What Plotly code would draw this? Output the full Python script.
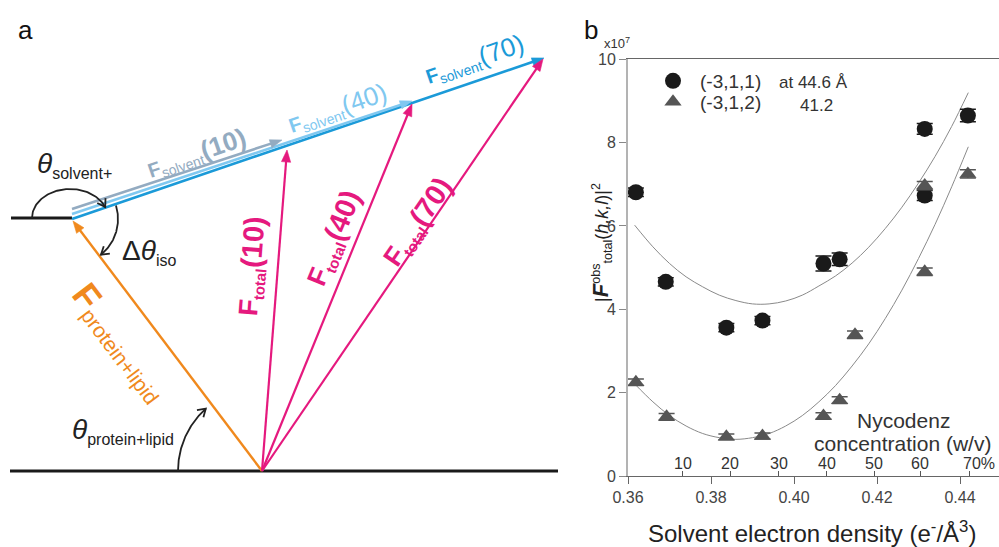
import numpy as np
import plotly.graph_objects as go

FONT = "Liberation Sans, Arial, sans-serif"

# ---------------- Panel b data ----------------
dens_311 = [0.3619, 0.3691, 0.3837, 0.3924, 0.4071, 0.4110, 0.4315, 0.4315, 0.4419]
F2_311 = [6.81, 4.66, 3.56, 3.73, 5.10, 5.20, 8.33, 6.73, 8.65]
err_311 = [0.10, 0.10, 0.10, 0.10, 0.18, 0.15, 0.13, 0.12, 0.15]

dens_312 = [0.3619, 0.3693, 0.3837, 0.3924, 0.4071, 0.4110, 0.4147, 0.4315, 0.4315, 0.4419]
F2_312 = [2.25, 1.42, 0.94, 0.96, 1.44, 1.82, 3.39, 4.90, 6.97, 7.25]
err_312 = [0.08, 0.08, 0.07, 0.07, 0.08, 0.08, 0.09, 0.09, 0.10, 0.10]

fit_x = [0.3616, 0.366, 0.370, 0.374, 0.378, 0.382, 0.386, 0.390, 0.394, 0.398, 0.402,
         0.406, 0.410, 0.414, 0.418, 0.422, 0.426, 0.430, 0.434, 0.438, 0.442]
fit_311 = [6.02, 5.50, 5.10, 4.78, 4.54, 4.34, 4.21, 4.13, 4.13, 4.20, 4.34,
           4.56, 4.80, 5.11, 5.49, 5.94, 6.45, 7.03, 7.67, 8.39, 9.20]
fit_312 = [2.21, 1.78, 1.45, 1.20, 1.02, 0.92, 0.88, 0.92, 1.02, 1.20, 1.45,
           1.78, 2.17, 2.64, 3.17, 3.78, 4.46, 5.22, 6.04, 6.94, 7.90]

x_ticks = [0.36, 0.38, 0.40, 0.42, 0.44]
y_ticks = [0, 2, 4, 6, 8, 10]
nyc_dens = [0.37325, 0.38468, 0.39631, 0.40788, 0.41928, 0.43046, 0.44234]
nyc_labels = ["10", "20", "30", "40", "50", "60", "70%"]

# ---------------- Panel a (vector diagram, pixel units) ----------------
origin_total = (262, 471)
solvent_vectors = {  # name: (start, end, colour)
    "10": ((72, 209), (282, 140), "#93abc1"),
    "40": ((72, 214), (412, 101), "#80c8f0"),
    "70": ((72, 219), (544, 58), "#1b9ad8"),
}
total_tips = {"10": (287, 150), "40": (412, 104), "70": (543, 59)}
protein_tip = (73, 221)
baseline = ([10, 558], [471, 471])
stub = ([11, 72], [218, 218])
# angle arcs: centre, rx, ry, start deg, end deg
arcs = [
    ((70, 218), 38, 29, 180, 338),
    ((72, 219), 46, 46, -17, 51),
    ((262, 471), 84, 84, 180, 228),
]

ORANGE = "#f0891d"
PINK = "#e5197e"

fig = go.Figure()

# fit curves
for fy in (fit_311, fit_312):
    fig.add_trace(go.Scatter(x=fit_x, y=fy, mode="lines", line=dict(color="#8a8a8a", width=1, shape="spline"),
                             showlegend=False, hoverinfo="skip"))
# data
fig.add_trace(go.Scatter(x=dens_311, y=F2_311, mode="markers", name="(-3,1,1)", legend="legend",
                         marker=dict(symbol="circle", size=16, color="#1a1a1a"),
                         error_y=dict(type="data", array=err_311, color="#1a1a1a", thickness=1.5, width=8)))
fig.add_trace(go.Scatter(x=dens_312, y=F2_312, mode="markers", name="(-3,1,2)", legend="legend2",
                         marker=dict(symbol="triangle-up", size=15, color="#555555"),
                         error_y=dict(type="data", array=err_312, color="#555555", thickness=1.5, width=8)))
# trace that carries the Nycodenz tick axis
fig.add_trace(go.Scatter(x=[None], y=[None], xaxis="x3", yaxis="y", showlegend=False, hoverinfo="skip"))


def seg(xs, ys, color, width):
    fig.add_trace(go.Scatter(x=list(xs), y=list(ys), mode="lines", line=dict(color=color, width=width),
                             xaxis="x2", yaxis="y2", showlegend=False, hoverinfo="skip"))


# panel a lines
for lx, ly in (baseline, stub):
    seg(lx, ly, "#1a1a1a", 3)


def vec(start, end, color, width, hl=12, hw=4.6):
    s = np.array(start, float)
    e = np.array(end, float)
    d = (e - s) / np.hypot(*(e - s))
    n = np.array([-d[1], d[0]])
    base = e - d * hl
    stop = base + d * 2
    seg([s[0], stop[0]], [s[1], stop[1]], color, width)
    tri = [e, base + n * hw, base - n * hw, e]
    fig.add_trace(go.Scatter(x=[p[0] for p in tri], y=[p[1] for p in tri], mode="lines", fill="toself",
                             fillcolor=color, line=dict(color=color, width=0.6),
                             xaxis="x2", yaxis="y2", showlegend=False, hoverinfo="skip"))


for key in ["70", "40", "10"]:
    s, e, c = solvent_vectors[key]
    vec(s, e, c, 2.6, hl=12, hw=4.2)
vec(origin_total, protein_tip, ORANGE, 2.4)
for key in ["10", "40", "70"]:
    vec(origin_total, total_tips[key], PINK, 2.2)

for (cx, cy), rx, ry, a0, a1 in arcs:
    t = np.radians(np.linspace(a0, a1, 80))
    px = cx + rx * np.cos(t)
    py = cy + ry * np.sin(t)
    seg(px, py, "#222", 1.8)
    # open V arrowhead at the arc end
    d = np.array([px[-1] - px[-3], py[-1] - py[-3]])
    d = d / np.hypot(*d)
    heads = []
    for sgn in (1, -1):
        a = np.radians(32 * sgn)
        r = np.array([d[0] * np.cos(a) - d[1] * np.sin(a), d[0] * np.sin(a) + d[1] * np.cos(a)])
        heads.append((px[-1] - 9 * r[0], py[-1] - 9 * r[1]))
    seg([heads[0][0], px[-1], heads[1][0]], [heads[0][1], py[-1], heads[1][1]], "#222", 1.8)

annotations = []


def lab(x, y, text, color, size, angle=0):
    annotations.append(dict(x=x, y=y, xref="x2", yref="y2", text=text,
                            showarrow=False, textangle=angle, font=dict(family=FONT, size=size, color=color),
                            xanchor="center", yanchor="middle"))


def ptxt(x, y, text, size, color="#222", angle=0):
    annotations.append(dict(x=x / 999, y=1 - y / 547, xref="paper", yref="paper", text=text, textangle=angle,
                            showarrow=False, xanchor="center", yanchor="middle",
                            font=dict(family=FONT, size=size, color=color)))


def sub(t, px, bold=False):
    inner = f"<b>{t}</b>" if bold else t
    return f"<sub><span style='font-size:{px}px'>{inner}</span></sub>"


def big(t, px, bold=False):
    inner = f"<b>{t}</b>" if bold else t
    return f"<span style='font-size:{px}px'>{inner}</span>"


lab(196, 153, "<b>F</b>" + sub("solvent", 14) + big("(10)", 26, True), "#93abc1", 20, -19)
lab(337, 108, "<b>F</b>" + sub("solvent", 14) + big("(40)", 26), "#80c8f0", 20, -19)
lab(474, 59, "<b>F</b>" + sub("solvent", 14) + big("(70)", 26), "#1b9ad8", 20, -19)
lab(252, 266, "<b>F</b>" + sub("total", 15, True) + big("(10)", 29, True), PINK, 27, -85.5)
lab(334, 238, "<b>F</b>" + sub("total", 15, True) + big("(40)", 29, True), PINK, 27, -67.8)
lab(418, 222, "<b>F</b>" + sub("total", 15, True) + big("(70)", 29, True), PINK, 27, -55.6)
lab(121, 342, big("F", 36, True) + sub("protein+lipid", 21), ORANGE, 24, 53)
lab(74, 165, "<i>θ</i>" + sub("solvent+", 16), "#222", 28)
lab(149, 252, "Δ<i>θ</i>" + sub("iso", 16), "#222", 28)
lab(123, 431, "<i>θ</i>" + sub("protein+lipid", 16), "#222", 28)

# panel letters
ptxt(25, 30, "a", 26, "#111")
ptxt(591, 30, "b", 26, "#111")
# panel b texts
ptxt(617, 43, "x10<sup>7</sup>", 13, "#333")
ptxt(601, 243, "|<b><i><span style='font-size:22px'>F</span></i></b><sup>obs</sup><sub>total</sub>(<i>h,k,l</i>)|<sup>2</sup>",
     18, "#222", -90)
ptxt(812, 532, "Solvent electron density (e<sup>-</sup>/Å<sup>3</sup>)", 24, "#222")
ptxt(903, 420, "Nycodenz", 21, "#333")
ptxt(902, 443, "concentration (w/v)", 21, "#333")
ptxt(813, 82, "at 44.6 Å", 17, "#333")
ptxt(816, 106, "41.2", 17, "#333")

# Nycodenz tick labels (above the axis, one per Nycodenz tick)
for v, t in zip(nyc_dens, nyc_labels):
    pct = t.endswith("%")
    annotations.append(dict(x=v, y=1 - 463 / 547, xref="x", yref="paper", text=t, showarrow=False,
                            xanchor="left" if pct else "center", xshift=-9 if pct else 0,
                            yanchor="middle", font=dict(family=FONT, size=16, color="#333")))

x_dom = [628 / 999, 1.0]
y_dom = [(547 - 476) / 547, (547 - 59.3) / 547]
x_range = [0.36, 0.36 + (999 - 628) / 83 * 0.02]

leg_common = dict(x=646 / 999, xanchor="left", yanchor="top", bgcolor="rgba(0,0,0,0)",
                  font=dict(family=FONT, size=19, color="#333"), itemwidth=44, itemsizing="trace",
                  borderwidth=0)

fig.update_layout(
    template="none",
    width=999, height=547, margin=dict(l=0, r=0, t=0, b=0, pad=0, autoexpand=False),
    paper_bgcolor="white", plot_bgcolor="rgba(0,0,0,0)",
    font=dict(family=FONT, size=15, color="#333"),
    showlegend=True,
    xaxis=dict(domain=x_dom, range=x_range, tickvals=x_ticks, ticktext=[f"{v:.2f}" for v in x_ticks],
               ticks="outside", ticklen=7, tickcolor="#666", showline=True, linecolor="#666", linewidth=1.2,
               mirror=True, showgrid=False, zeroline=False, tickfont=dict(size=16, color="#444"), anchor="y",
               automargin=False),
    yaxis=dict(domain=y_dom, range=[0, 10], tickvals=y_ticks, ticks="outside", ticklen=7, tickcolor="#888",
               showline=True, linecolor="#b3b3b3", linewidth=2, showgrid=False, zeroline=False,
               tickfont=dict(size=16, color="#444"), anchor="x", automargin=False),
    xaxis3=dict(overlaying="x", anchor="y", side="bottom", range=x_range, tickvals=nyc_dens,
                ticks="inside", ticklen=5, tickcolor="#555", showticklabels=False, showline=False,
                showgrid=False, zeroline=False, automargin=False),
    xaxis2=dict(domain=[0, 580 / 999], range=[0, 580], visible=False, anchor="y2", automargin=False),
    yaxis2=dict(domain=[0, 1], range=[547, 0], visible=False, anchor="x2", automargin=False),
    legend=dict(y=1 - 62 / 547, **leg_common),
    legend2=dict(y=1 - 83 / 547, **leg_common),
    annotations=annotations,
)

fig.write_html("out.html")
